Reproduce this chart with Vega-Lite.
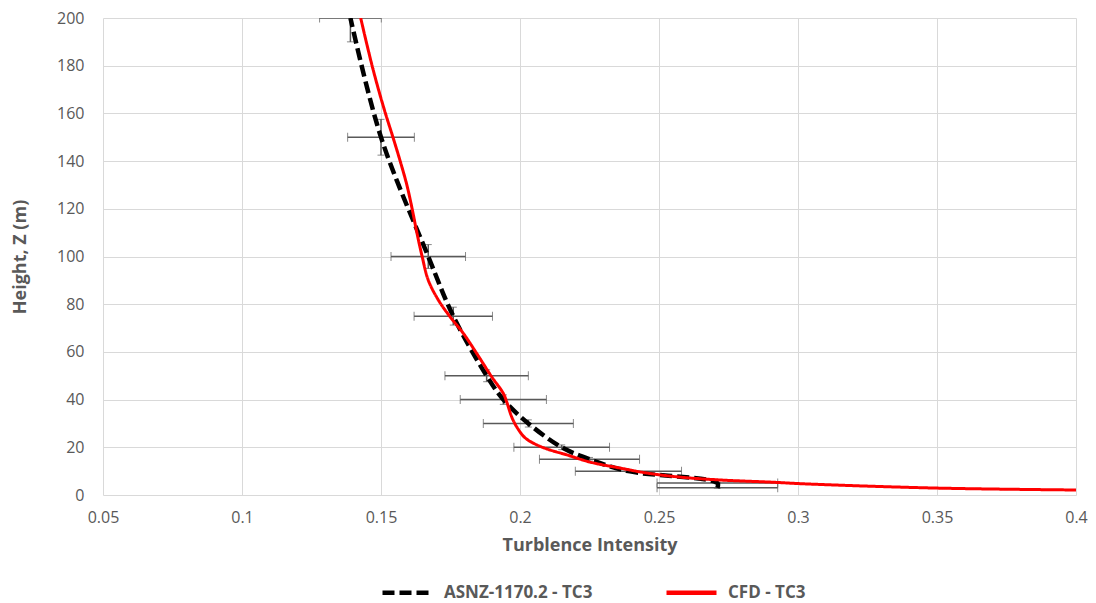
{
  "$schema": "https://vega.github.io/schema/vega-lite/v6.json",
  "width": 973,
  "height": 477,
  "autosize": {"type": "none"},
  "padding": {"left": 103, "top": 18, "right": 20, "bottom": 108},
  "background": "white",
  "config": {
    "view": {"stroke": null},
    "font": "Open Sans",
    "axis": {
      "labelFont": "Open Sans",
      "titleFont": "Open Sans",
      "labelColor": "#595959",
      "titleColor": "#595959",
      "labelFontSize": 16,
      "titleFontSize": 18,
      "titleFontWeight": "bold",
      "gridColor": "#d9d9d9",
      "gridWidth": 1,
      "ticks": false,
      "domain": false
    },
    "legend": {"labelFont": "Open Sans"}
  },
  "datasets": {
    "asnz": [
      {"h": 3, "ti": 0.271, "tilo": 0.2493, "tihi": 0.2927, "hlo": 2.85, "hhi": 3.15, "s": "ASNZ-1170.2 - TC3"},
      {"h": 5, "ti": 0.271, "tilo": 0.2493, "tihi": 0.2927, "hlo": 4.75, "hhi": 5.25, "s": "ASNZ-1170.2 - TC3"},
      {"h": 10, "ti": 0.239, "tilo": 0.2199, "tihi": 0.2581, "hlo": 9.5, "hhi": 10.5, "s": "ASNZ-1170.2 - TC3"},
      {"h": 15, "ti": 0.225, "tilo": 0.207, "tihi": 0.243, "hlo": 14.25, "hhi": 15.75, "s": "ASNZ-1170.2 - TC3"},
      {"h": 20, "ti": 0.215, "tilo": 0.1978, "tihi": 0.2322, "hlo": 19, "hhi": 21, "s": "ASNZ-1170.2 - TC3"},
      {"h": 30, "ti": 0.203, "tilo": 0.1868, "tihi": 0.2192, "hlo": 28.5, "hhi": 31.5, "s": "ASNZ-1170.2 - TC3"},
      {"h": 40, "ti": 0.194, "tilo": 0.1785, "tihi": 0.2095, "hlo": 38, "hhi": 42, "s": "ASNZ-1170.2 - TC3"},
      {"h": 50, "ti": 0.188, "tilo": 0.173, "tihi": 0.203, "hlo": 47.5, "hhi": 52.5, "s": "ASNZ-1170.2 - TC3"},
      {"h": 75, "ti": 0.176, "tilo": 0.1619, "tihi": 0.1901, "hlo": 71.25, "hhi": 78.75, "s": "ASNZ-1170.2 - TC3"},
      {"h": 100, "ti": 0.167, "tilo": 0.1536, "tihi": 0.1804, "hlo": 95, "hhi": 105, "s": "ASNZ-1170.2 - TC3"},
      {"h": 150, "ti": 0.15, "tilo": 0.138, "tihi": 0.162, "hlo": 142.5, "hhi": 157.5, "s": "ASNZ-1170.2 - TC3"},
      {"h": 200, "ti": 0.139, "tilo": 0.1279, "tihi": 0.1501, "hlo": 190, "hhi": 210, "s": "ASNZ-1170.2 - TC3"}
    ],
    "cfd": [
      {"h": 2.1, "ti": 0.4, "s": "CFD - TC3"},
      {"h": 2.9, "ti": 0.35, "s": "CFD - TC3"},
      {"h": 4.6, "ti": 0.304, "s": "CFD - TC3"},
      {"h": 5.4, "ti": 0.29, "s": "CFD - TC3"},
      {"h": 6.3, "ti": 0.272, "s": "CFD - TC3"},
      {"h": 7.5, "ti": 0.2576, "s": "CFD - TC3"},
      {"h": 9.2, "ti": 0.2457, "s": "CFD - TC3"},
      {"h": 11.3, "ti": 0.236, "s": "CFD - TC3"},
      {"h": 13.8, "ti": 0.2252, "s": "CFD - TC3"},
      {"h": 16.8, "ti": 0.2169, "s": "CFD - TC3"},
      {"h": 19.3, "ti": 0.2097, "s": "CFD - TC3"},
      {"h": 21.5, "ti": 0.2052, "s": "CFD - TC3"},
      {"h": 24, "ti": 0.2018, "s": "CFD - TC3"},
      {"h": 28.6, "ti": 0.1988, "s": "CFD - TC3"},
      {"h": 32.8, "ti": 0.197, "s": "CFD - TC3"},
      {"h": 39.1, "ti": 0.1952, "s": "CFD - TC3"},
      {"h": 42.6, "ti": 0.194, "s": "CFD - TC3"},
      {"h": 49.6, "ti": 0.1898, "s": "CFD - TC3"},
      {"h": 59.4, "ti": 0.1844, "s": "CFD - TC3"},
      {"h": 67.8, "ti": 0.1796, "s": "CFD - TC3"},
      {"h": 74.8, "ti": 0.1748, "s": "CFD - TC3"},
      {"h": 81.8, "ti": 0.1706, "s": "CFD - TC3"},
      {"h": 90.1, "ti": 0.167, "s": "CFD - TC3"},
      {"h": 100, "ti": 0.1648, "s": "CFD - TC3"},
      {"h": 110, "ti": 0.1629, "s": "CFD - TC3"},
      {"h": 120, "ti": 0.1612, "s": "CFD - TC3"},
      {"h": 130, "ti": 0.1593, "s": "CFD - TC3"},
      {"h": 140, "ti": 0.1569, "s": "CFD - TC3"},
      {"h": 150, "ti": 0.1543, "s": "CFD - TC3"},
      {"h": 160, "ti": 0.1516, "s": "CFD - TC3"},
      {"h": 170, "ti": 0.1491, "s": "CFD - TC3"},
      {"h": 180, "ti": 0.1468, "s": "CFD - TC3"},
      {"h": 190, "ti": 0.1447, "s": "CFD - TC3"},
      {"h": 200, "ti": 0.1427, "s": "CFD - TC3"}
    ]
  },
  "layer": [
    {
      "data": {"name": "asnz"},
      "mark": {"type": "errorbar", "clip": true, "ticks": {"size": 9, "color": "#595959", "strokeWidth": 1.5}, "rule": {"color": "#595959", "strokeWidth": 1.5}},
      "encoding": {
        "x": {"field": "tilo", "type": "quantitative", "title": "Turblence Intensity", "scale": {"domain": [0.05, 0.4], "nice": false, "zero": false},
          "axis": {"title": "Turblence Intensity", "format": ".2~f", "values": [0.05, 0.1, 0.15, 0.2, 0.25, 0.3, 0.35, 0.4], "labelPadding": 14, "titlePadding": 11, "labelFlush": false}},
        "x2": {"field": "tihi"},
        "y": {"field": "h", "type": "quantitative", "title": "Height, Z (m)", "scale": {"domain": [0, 200], "nice": false},
          "axis": {"title": "Height, Z (m)", "values": [0, 20, 40, 60, 80, 100, 120, 140, 160, 180, 200], "labelPadding": 19, "titlePadding": 27, "labelFlush": false}}
      }
    },
    {
      "data": {"name": "asnz"},
      "mark": {"type": "errorbar", "clip": true, "ticks": {"size": 7, "color": "#595959", "strokeWidth": 1.5}, "rule": {"color": "#595959", "strokeWidth": 1.5}},
      "encoding": {
        "y": {"field": "hlo", "type": "quantitative", "title": "Height, Z (m)"},
        "y2": {"field": "hhi"},
        "x": {"field": "ti", "type": "quantitative", "title": "Turblence Intensity"}
      }
    },
    {
      "data": {"name": "asnz"},
      "mark": {"type": "line", "strokeWidth": 4.5, "interpolate": "catmull-rom", "clip": true},
      "encoding": {
        "x": {"field": "ti", "type": "quantitative", "title": "Turblence Intensity"},
        "y": {"field": "h", "type": "quantitative", "title": "Height, Z (m)"},
        "order": {"field": "h", "type": "quantitative"},
        "color": {"field": "s", "type": "nominal", "scale": {"domain": ["ASNZ-1170.2 - TC3", "CFD - TC3"], "range": ["#000000", "#ff0000"]},
          "legend": {"title": null, "orient": "none", "legendX": 277, "legendY": 547, "direction": "horizontal", "symbolType": "stroke", "symbolSize": 2500, "symbolStrokeWidth": 4.5, "labelFontSize": 17, "labelFontWeight": "bold", "labelColor": "#595959", "columnPadding": 64, "labelOffset": 9}},
        "strokeDash": {"field": "s", "type": "nominal", "scale": {"domain": ["ASNZ-1170.2 - TC3", "CFD - TC3"], "range": [[12, 5], [1, 0]]}, "legend": null}
      }
    },
    {
      "data": {"name": "cfd"},
      "mark": {"type": "line", "strokeWidth": 3, "interpolate": "catmull-rom", "clip": true},
      "encoding": {
        "x": {"field": "ti", "type": "quantitative", "title": "Turblence Intensity"},
        "y": {"field": "h", "type": "quantitative", "title": "Height, Z (m)"},
        "order": {"field": "h", "type": "quantitative"},
        "color": {"field": "s", "type": "nominal"},
        "strokeDash": {"field": "s", "type": "nominal"}
      }
    }
  ]
}
